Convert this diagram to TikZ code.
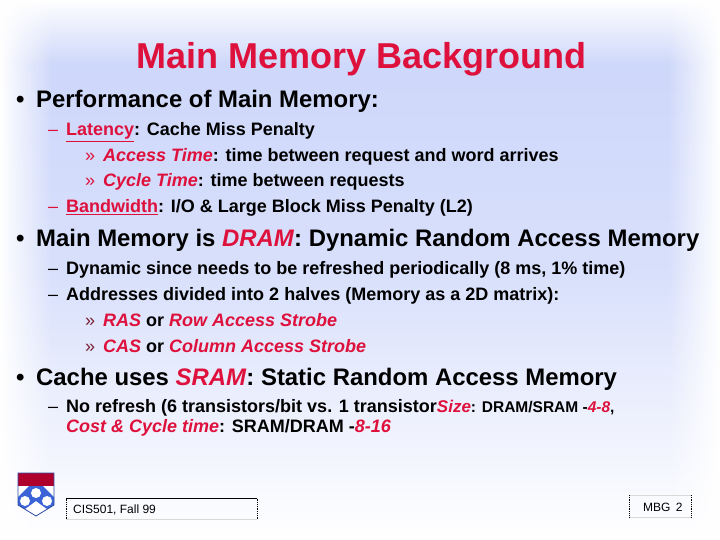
\documentclass[tikz,border=0pt]{standalone}
\usepackage{fontspec}
\setmainfont{Liberation Sans}
\usetikzlibrary{fadings}
\definecolor{slidered}{RGB}{222,16,60}
\definecolor{slideblue}{RGB}{203,213,250}
\definecolor{shieldblue}{RGB}{60,100,215}
\definecolor{shieldred}{RGB}{175,0,45}
\definecolor{darkquote}{RGB}{120,30,50}
\newcommand{\hot}[1]{\textcolor{slidered}{\textit{#1}}}
\newcommand{\hotu}[1]{\textcolor{slidered}{\underline{#1}}}
\newcommand{\sizefont}{\fontsize{17}{17}\selectfont}
\newcommand{\tailfont}{\fontsize{15.5}{15.5}\selectfont}
\tikzfading[name=fadeleft, left color=transparent!0, right color=transparent!100]
\tikzfading[name=faderight, left color=transparent!100, right color=transparent!0]
\tikzfading[name=fadetop, top color=transparent!0, bottom color=transparent!100]
\tikzset{
  every node/.style={inner sep=0pt, anchor=base west},
  titletext/.style={font=\bfseries\fontsize{36}{36}\selectfont, text=slidered},
  levelone/.style={font=\bfseries\fontsize{23.9}{24}\selectfont},
  leveltwo/.style={font=\bfseries\fontsize{18}{18}\selectfont},
  marktext/.style={font=\fontsize{18}{18}\selectfont},
  footbox/.style={font=\fontsize{12}{12}\selectfont},
  boxline/.style={line width=0.8pt, densely dotted}
}
\begin{document}
\begin{tikzpicture}[x=1pt,y=-1pt]
\useasboundingbox (0,0) rectangle (720,540);
% background
\begin{scope}
\clip (0,0) rectangle (720,540);
\shade[top color=slideblue, bottom color=white, middle color=slideblue!75!white] (0,0) rectangle (720,540);
\fill[white, path fading=fadeleft] (0,-20) rectangle (52,560);
\fill[white, path fading=fadetop] (-20,0) rectangle (740,66);
\fill[white, path fading=faderight] (668,-20) rectangle (720,560);
\end{scope}
% title
\node[titletext] (title) at (136,69) {Main Memory Background};
% first block
\node[levelone] (bulleta) at (16,108) {•};
\node[levelone] (perf) at (36,108) {Performance of Main Memory:};
\node[marktext, text=slidered] (dasha) at (48,136) {–};
\node[leveltwo] (latency) at (66,136) {\hotu{Latency}: Cache Miss Penalty};
\node[marktext, text=slidered] (quota) at (85,162) {»};
\node[leveltwo] (access) at (103,162) {\hot{Access Time}: time between request and word arrives};
\node[marktext, text=slidered] (quotb) at (85,187) {»};
\node[leveltwo] (cycle) at (103,187) {\hot{Cycle Time}: time between requests};
\node[marktext, text=slidered] (dashb) at (48,213) {–};
\node[leveltwo] (band) at (66,213) {\hotu{Bandwidth}: I/O \& Large Block Miss Penalty (L2)};
% second block
\node[levelone] (bulletb) at (16,246) {•};
\node[levelone] (dram) at (36,246) {Main Memory is \hot{DRAM}: Dynamic Random Access Memory};
\node[marktext] (dashc) at (48,274) {–};
\node[leveltwo] (refresh) at (66,274) {Dynamic since needs to be refreshed periodically (8 ms, 1\% time)};
\node[marktext] (dashd) at (48,300) {–};
\node[leveltwo] (addr) at (66,300) {Addresses divided into 2 halves (Memory as a 2D matrix):};
\node[marktext, text=darkquote] (quotc) at (85,326) {»};
\node[leveltwo] (ras) at (103,326) {\hot{RAS} or \hot{Row Access Strobe}};
\node[marktext, text=darkquote] (quotd) at (85,352) {»};
\node[leveltwo] (cas) at (103,352) {\hot{CAS} or \hot{Column Access Strobe}};
% third block
\node[levelone] (bulletc) at (16,385) {•};
\node[levelone] (sram) at (36,385) {Cache uses \hot{SRAM}: Static Random Access Memory};
\node[marktext] (dashe) at (48,412) {–};
\node[leveltwo] (norefresh) at (66,412) {No refresh (6 transistors/bit vs. 1 transistor{\sizefont\hot{Size}}{\tailfont: DRAM/SRAM -\hot{4-8},}};
\node[leveltwo] (cost) at (66,432) {\hot{Cost \& Cycle time}: SRAM/DRAM -\hot{8-16}};
% shield
\fill[white] (18,473) -- (54,473) -- (54,505) -- (36,516) -- (18,505) -- cycle;
\fill[shieldblue] (29,486) -- (43,486) -- (54,497) -- (54,505) -- (47,509) -- (36,501) -- (25,509) -- (18,505) -- (18,497) -- cycle;
\fill[white] (36,493) circle (5);
\fill[white] (25,501) circle (5);
\fill[white] (47,501) circle (5);
\fill[shieldred] (18,473) rectangle (54,485.5);
\draw[shieldblue!75!black, line width=0.8pt] (18,473) -- (54,473) -- (54,505) -- (36,516) -- (18,505) -- cycle;
% footer boxes
\node[footbox] (course) at (73,513) {CIS501, Fall 99};
\draw[line width=0.8pt] (66,498.5) -- (257,498.5);
\draw[black!15, line width=0.8pt] (66,519) -- (257,519);
\draw[boxline] (66,498.5) -- (66,519);
\draw[boxline] (257,498.5) -- (257,519);
\node[footbox] (page) at (643,511) {MBG\, 2};
\draw[black!15, line width=0.8pt] (629,495) -- (691,495);
\draw[black!15, line width=0.8pt] (629,517) -- (691,517);
\draw[boxline] (629,495) -- (629,517);
\draw[boxline] (691,495) -- (691,517);
\end{tikzpicture}
\end{document}
